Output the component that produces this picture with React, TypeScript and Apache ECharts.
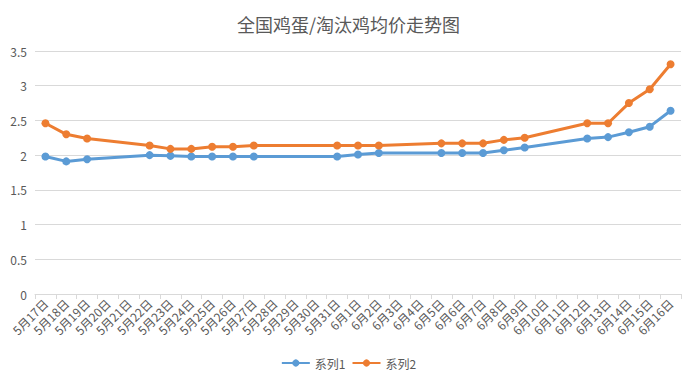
import React, { useEffect, useRef } from "react";
import * as echarts from "echarts";

const categories = [
  "5月17日", "5月18日", "5月19日", "5月20日", "5月21日", "5月22日", "5月23日", "5月24日",
  "5月25日", "5月26日", "5月27日", "5月28日", "5月29日", "5月30日", "5月31日",
  "6月1日", "6月2日", "6月3日", "6月4日", "6月5日", "6月6日", "6月7日", "6月8日",
  "6月9日", "6月10日", "6月11日", "6月12日", "6月13日", "6月14日", "6月15日", "6月16日",
];

const series1: (number | null)[] = [
  1.98, 1.91, 1.94, null, null, 2.0, 1.99, 1.98,
  1.98, 1.98, 1.98, null, null, null, 1.98,
  2.01, 2.03, null, null, 2.03, 2.03, 2.03, 2.07,
  2.11, null, null, 2.24, 2.26, 2.33, 2.41, 2.64,
];

const series2: (number | null)[] = [
  2.46, 2.3, 2.24, null, null, 2.14, 2.09, 2.09,
  2.12, 2.12, 2.14, null, null, null, 2.14,
  2.14, 2.14, null, null, 2.17, 2.17, 2.17, 2.22,
  2.25, null, null, 2.46, 2.46, 2.75, 2.95, 3.31,
];

const seriesNames = ["系列1", "系列2"];
const title = "全国鸡蛋/淘汰鸡均价走势图";

export default function App() {
  const ref = useRef<HTMLDivElement>(null);
  useEffect(() => {
    if (!ref.current) return;
    const chart = echarts.init(ref.current, null, { renderer: "svg" });
    const font = "'Microsoft YaHei', 'Noto Sans CJK SC', sans-serif";
    chart.setOption({
      animation: false,
      backgroundColor: "#ffffff",
      textStyle: { fontFamily: font },
      title: {
        text: title,
        left: "center",
        top: 10,
        textStyle: { fontSize: 18, fontWeight: "normal", color: "#595959", fontFamily: font },
      },
      legend: {
        data: seriesNames,
        bottom: 10,
        left: "center",
        itemWidth: 28,
        itemHeight: 9,
        itemGap: 6,
        textStyle: { fontSize: 12, color: "#595959", fontFamily: font },
      },
      grid: { left: 35, right: 16, top: 51, bottom: 90, containLabel: false },
      xAxis: {
        type: "category",
        data: categories,
        boundaryGap: true,
        axisLine: { lineStyle: { color: "#d9d9d9" } },
        axisTick: { show: true, alignWithLabel: false, length: 5, lineStyle: { color: "#d9d9d9" } },
        axisLabel: { rotate: 45, interval: 0, fontSize: 12, color: "#595959", margin: 7, fontFamily: font },
      },
      yAxis: {
        type: "value",
        min: 0,
        max: 3.5,
        interval: 0.5,
        axisLine: { show: false },
        axisTick: { show: false },
        axisLabel: { fontSize: 12, color: "#595959", margin: 8, fontFamily: font },
        splitLine: { lineStyle: { color: "#d9d9d9" } },
      },
      series: [
        {
          name: seriesNames[0],
          type: "line",
          data: series1,
          connectNulls: true,
          symbol: "circle",
          symbolSize: 8,
          lineStyle: { width: 3, color: "#5B9BD5" },
          itemStyle: { color: "#5B9BD5" },
        },
        {
          name: seriesNames[1],
          type: "line",
          data: series2,
          connectNulls: true,
          symbol: "circle",
          symbolSize: 8,
          lineStyle: { width: 3, color: "#ED7D31" },
          itemStyle: { color: "#ED7D31" },
        },
      ],
    });
    return () => chart.dispose();
  }, []);
  return (
    <div
      style={{
        position: "fixed",
        left: 0,
        top: 0,
        width: 697,
        height: 384,
        boxSizing: "border-box",
        border: "1px solid #d9d9d9",
        background: "#fff",
      }}
    >
      <div ref={ref} style={{ position: "absolute", left: -1, top: -1, width: 697, height: 384 }} />
    </div>
  );
}
